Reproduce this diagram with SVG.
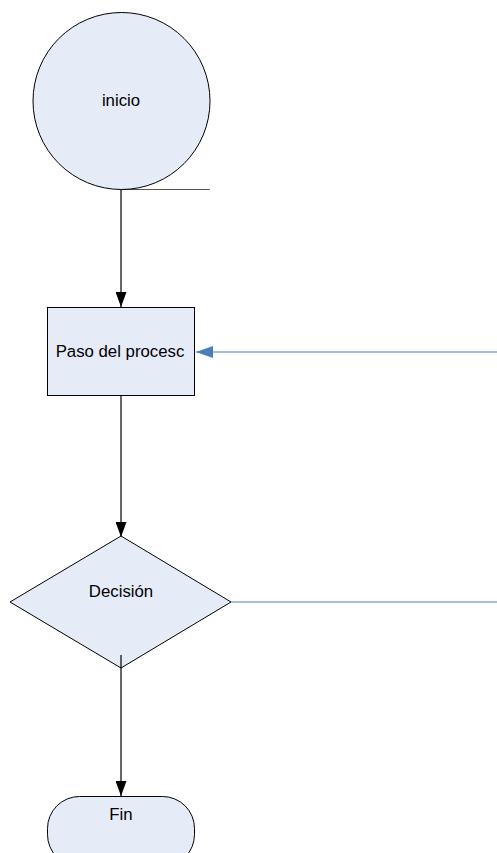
<svg xmlns="http://www.w3.org/2000/svg" width="497" height="853" viewBox="0 0 497 853">
<style>
.shape{fill:#e6ecf7;stroke:#000;stroke-width:1}
.lbl{font-family:"Liberation Sans",Arial,sans-serif;font-size:16.8px;fill:#000;text-anchor:middle}
.blk{stroke:#000;stroke-width:1.2;fill:none}
.blu{stroke:#4a7ebb;stroke-width:1.2;fill:none}
</style>
<defs>
<marker id="ab" markerWidth="15" markerHeight="11" refX="15" refY="5.5" orient="auto" markerUnits="userSpaceOnUse"><path d="M0,0 L15,5.5 L0,11 Z" fill="#000"/></marker>
<marker id="au" markerWidth="17" markerHeight="12" refX="17" refY="6" orient="auto" markerUnits="userSpaceOnUse"><path d="M0,0 L17,6 L0,12 Z" fill="#4a7ebb"/></marker>
</defs>
<rect width="497" height="853" fill="#fff"/>
<g id="connectors">
<line x1="121" y1="189.5" x2="210" y2="189.5" stroke="#555" stroke-width="1"/>
<line class="blk" x1="121" y1="189" x2="121" y2="307" marker-end="url(#ab)"/>
<line class="blk" x1="121" y1="396" x2="121" y2="537" marker-end="url(#ab)"/>
<line class="blu" x1="497" y1="352" x2="196" y2="352" marker-end="url(#au)"/>
<line class="blu" x1="231" y1="602" x2="497" y2="602"/>
<line class="blk" x1="121" y1="655" x2="121" y2="796" marker-end="url(#ab)"/>
</g>
<g id="inicio">
<circle class="shape" cx="121.5" cy="101" r="88.5"/>
<text class="lbl" x="121" y="106">inicio</text>
</g>
<g id="paso">
<rect class="shape" x="47.5" y="307.5" width="147" height="88"/>
<text class="lbl" x="120" y="357">Paso del procesc</text>
</g>
<g id="decision">
<polygon class="shape" points="121,536 231,602 121,668 10,602"/>
<text class="lbl" x="121" y="597">Decisión</text>
</g>
<g id="fin">
<rect class="shape" x="47.5" y="796.5" width="147" height="70" rx="32" ry="32"/>
<text class="lbl" x="121" y="820">Fin</text>
</g>
<line class="blk" x1="121" y1="655" x2="121" y2="668"/>
</svg>
